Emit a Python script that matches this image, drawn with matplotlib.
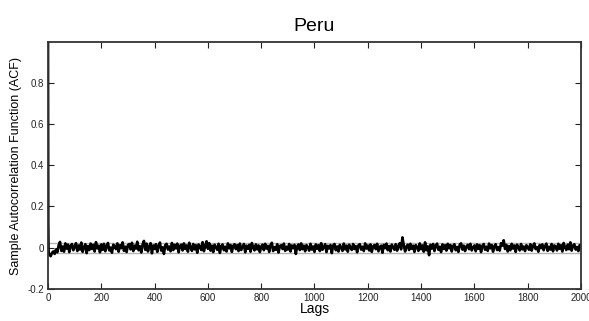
import numpy as np
from matplotlib import pyplot as plt
from matplotlib.ticker import FuncFormatter

plt.rcParams['font.family'] = ['Liberation Sans', 'DejaVu Sans']

# sample ACF, lags 0..3 then every 5th lag up to 2000
acf_head = [1.0, 0.12, -0.01, -0.03]
acf_tail = [
    -0.032, -0.041, -0.025, -0.018, -0.030, -0.008, -0.022, 0.012, 0.028, -0.015, 0.006, -0.019, 0.021, -0.004, 0.015, -0.021, 0.009, 0.018, -0.012, 0.004,
    0.022, -0.016, 0.011, -0.009, 0.025, -0.020, 0.003, 0.017, -0.026, 0.008, -0.011, 0.020, -0.006, 0.014, -0.018, 0.027, -0.003, 0.010, -0.022, 0.016,
    -0.010, 0.019, -0.017, 0.006, 0.023, -0.013, 0.001, -0.024, 0.015, 0.008, -0.007, 0.021, -0.019, 0.012, -0.002, 0.026, -0.015, 0.005, -0.021, 0.013,
    0.018, -0.008, 0.024, -0.016, 0.010, -0.004, 0.029, -0.012, 0.007, -0.023, 0.016, 0.033, -0.010, 0.020, -0.018, 0.004, 0.022, -0.027, 0.011, -0.006,
    0.017, -0.020, 0.009, 0.025, -0.014, 0.002, -0.030, 0.013, 0.019, -0.009, 0.006, -0.017, 0.023, -0.011, 0.014, -0.003, 0.020, -0.022, 0.008, 0.015,
    -0.013, 0.021, -0.006, 0.011, -0.019, 0.024, 0.003, -0.015, 0.018, -0.008, 0.012, -0.024, 0.016, 0.006, -0.011, 0.027, -0.017, 0.009, 0.031, -0.005,
    0.022, -0.014, 0.010, -0.021, 0.015, 0.002, -0.010, 0.019, -0.025, 0.007, 0.016, -0.012, 0.005, -0.018, 0.021, -0.003, 0.013, -0.020, 0.009, 0.017,
    -0.007, 0.012, -0.016, 0.020, -0.011, 0.004, 0.018, -0.022, 0.010, -0.005, 0.014, -0.019, 0.023, 0.001, -0.013, 0.016, -0.008, 0.011, -0.021, 0.006,
    0.015, -0.012, 0.019, -0.004, 0.009, -0.020, 0.013, 0.024, -0.016, 0.003, -0.010, 0.017, -0.023, 0.008, 0.012, -0.006, 0.020, -0.015, 0.005, -0.009,
    0.018, -0.018, 0.011, -0.002, 0.014, -0.030, 0.007, 0.016, -0.011, 0.021, -0.007, 0.010, -0.017, 0.013, 0.002, -0.014, 0.019, -0.009, 0.006, -0.020,
    0.016, -0.005, 0.012, -0.016, 0.022, -0.010, 0.004, 0.017, -0.021, 0.009, -0.003, 0.013, -0.026, 0.011, 0.018, -0.012, 0.006, -0.018, 0.014, 0.001,
    -0.015, 0.020, -0.008, 0.010, -0.019, 0.015, 0.003, -0.011, 0.018, -0.006, 0.008, -0.022, 0.012, 0.017, -0.009, 0.005, -0.016, 0.021, -0.004, 0.011,
    -0.013, 0.016, -0.020, 0.007, 0.013, -0.007, 0.019, -0.017, 0.004, 0.010, -0.024, 0.014, -0.002, 0.020, -0.012, 0.008, -0.018, 0.015, 0.002, -0.010,
    0.017, -0.014, 0.009, 0.022, -0.008, 0.050, 0.012, -0.018, 0.006, 0.015, -0.011, 0.019, -0.005, 0.010, -0.020, 0.013, 0.003, -0.015, 0.021, -0.007,
    0.011, -0.019, 0.026, -0.012, 0.007, -0.036, 0.014, -0.004, 0.018, -0.016, 0.009, 0.020, -0.010, 0.005, -0.021, 0.016, -0.006, 0.012, -0.014, 0.019,
    -0.003, 0.013, -0.018, 0.008, 0.017, -0.012, 0.004, -0.020, 0.015, 0.021, -0.009, 0.010, -0.016, 0.006, 0.014, -0.007, 0.019, -0.013, 0.002, 0.011,
    -0.017, 0.016, -0.005, 0.012, -0.021, 0.009, 0.018, -0.010, 0.005, -0.015, 0.020, -0.003, 0.013, -0.019, 0.007, 0.017, -0.011, 0.003, -0.014, 0.022,
    0.010, 0.036, -0.006, 0.014, -0.018, 0.008, -0.012, 0.019, -0.004, 0.011, -0.020, 0.015, 0.002, -0.013, 0.018, -0.008, 0.006, -0.016, 0.012, 0.004,
    -0.010, 0.017, -0.014, 0.009, 0.021, -0.007, 0.003, -0.019, 0.013, -0.002, 0.016, -0.012, 0.008, 0.020, -0.015, 0.005, -0.009, 0.018, -0.017, 0.011,
    0.006, -0.013, 0.019, -0.005, 0.012, -0.018, 0.023, 0.002, -0.011, 0.015, -0.007, 0.026, -0.014, 0.010, 0.017, -0.009, 0.004, -0.016, 0.013, 0.008,
]
conf_bound = 0.024
lags = np.concatenate([np.arange(len(acf_head)), 5 * np.arange(1, len(acf_tail) + 1)])
acf = np.array(acf_head + acf_tail)

fig = plt.figure(figsize=(5.89, 3.21), dpi=100)
ax = fig.add_axes([0.0815, 0.0997, 0.9049, 0.7693])

ax.axhline(conf_bound, color='#b4b4b4', lw=1.0)
ax.axhline(-conf_bound, color='#b4b4b4', lw=1.0)
ax.plot(lags, acf, color='black', lw=1.9)

ax.set_xlim(0, 2000)
ax.set_ylim(-0.2, 0.997)
ax.set_xticks(np.arange(0, 2001, 200))
ax.set_yticks([-0.2, 0, 0.2, 0.4, 0.6, 0.8])
ax.yaxis.set_major_formatter(FuncFormatter(lambda v, p: '%g' % round(v, 2)))
ax.tick_params(direction='in', length=4, width=0.8, top=True, right=True,
               labelsize=7, colors='#222222', pad=3)
for s in ax.spines.values():
    s.set_linewidth(1.3)
    s.set_color('#333333')

ax.set_title('Peru', fontsize=14, pad=8)
ax.set_xlabel('Lags', fontsize=10, labelpad=-1)
ax.set_ylabel('Sample Autocorrelation Function (ACF)', fontsize=9, labelpad=4)

plt.savefig('out.png', dpi=100)
